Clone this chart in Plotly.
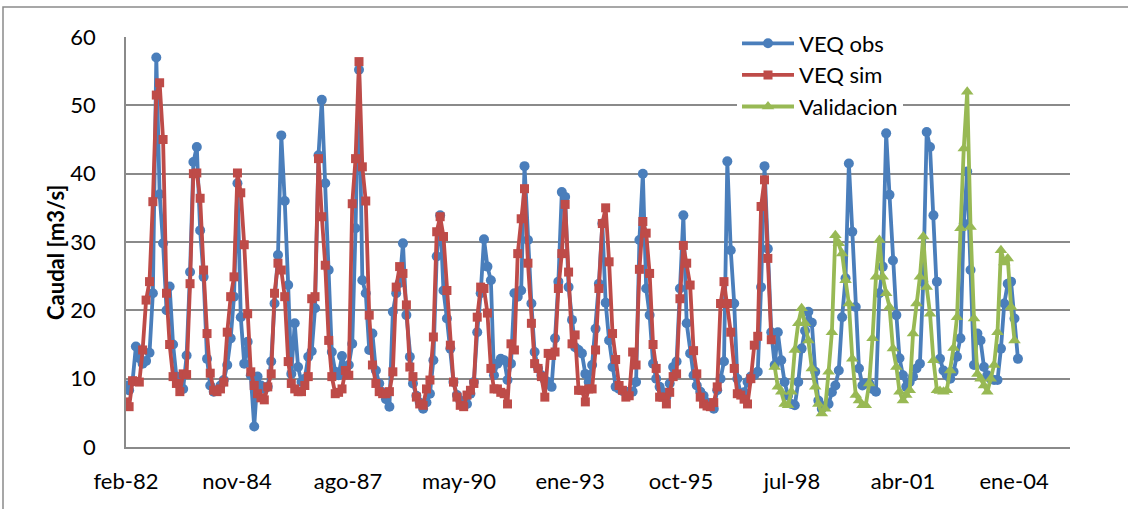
import datetime as dt
import plotly.graph_objects as go

# Monthly discharge series, first month Feb-1982
start = dt.date(1982, 2, 15)

veq_obs = [
    9.0, 8.3, 9.6, 14.7, 13.0, 12.2, 12.6, 13.8, 22.5, 57.0, 37.0, 29.8,
    20.0, 23.5, 15.0, 10.3, 9.0, 8.5, 13.4, 25.6, 41.7, 43.9, 31.7, 24.9,
    12.9, 9.0, 8.1, 8.3, 9.0, 9.8, 12.0, 15.9, 22.0, 38.6, 19.0, 12.2,
    15.4, 10.5, 3.0, 10.3, 9.0, 8.5, 8.8, 12.5, 21.0, 28.1, 45.6, 36.0,
    23.7, 10.7, 18.1, 11.7, 9.5, 10.0, 13.2, 14.0, 20.3, 42.7, 50.8, 38.6,
    25.9, 13.9, 11.0, 10.5, 13.3, 11.5, 12.0, 15.1, 32.0, 55.2, 24.4, 22.5,
    14.2, 16.6, 11.2, 9.3, 8.0, 7.0, 5.9, 19.8, 22.5, 24.0, 29.8, 19.3,
    13.2, 9.3, 7.5, 6.5, 5.6, 6.5, 7.8, 12.7, 27.9, 33.9, 22.9, 18.8,
    14.4, 9.5, 7.6, 6.8, 6.3, 6.3, 7.8, 9.5, 16.8, 22.5, 30.4, 26.4,
    24.4, 10.5, 12.2, 12.9, 12.7, 9.8, 12.2, 22.5, 22.0, 22.9, 41.1, 30.3,
    21.0, 13.9, 11.5, 10.5, 9.8, 9.5, 8.8, 15.9, 24.2, 37.3, 36.6, 23.4,
    18.6, 14.6, 14.2, 13.7, 10.7, 9.5, 12.0, 17.3, 23.9, 32.7, 21.1, 15.6,
    11.7, 8.8, 8.5, 8.2, 8.1, 8.1, 8.1, 9.5, 30.3, 40.0, 23.2, 19.3,
    12.2, 10.0, 8.8, 8.0, 7.3, 9.3, 11.7, 12.5, 23.2, 33.9, 18.1, 13.7,
    10.5, 9.0, 8.1, 7.5, 6.5, 6.0, 5.6, 8.3, 10.0, 12.5, 41.8, 28.8,
    21.0, 10.0, 7.8, 8.0, 9.5, 10.3, 10.5, 11.0, 23.4, 41.1, 29.0, 16.8,
    12.0, 16.8, 12.7, 9.5, 7.5, 6.3, 6.1, 9.5, 14.4, 17.0, 19.8, 18.2,
    11.0, 6.8, 5.6, 6.0, 6.3, 8.0, 9.0, 11.2, 19.0, 24.7, 41.5, 31.5,
    20.5, 11.5, 9.0, 9.3, 9.3, 8.5, 8.1, 22.5, 26.4, 45.9, 36.9, 27.3,
    19.3, 13.0, 10.5, 8.8, 9.5, 10.3, 11.5, 12.2, 24.2, 46.1, 43.9, 33.9,
    24.2, 12.9, 11.2, 10.5, 10.0, 11.0, 13.2, 15.9, 32.7, 40.3, 25.9, 12.0,
    16.6, 15.6, 11.7, 10.5, 10.0, 9.8, 9.8, 14.4, 21.0, 23.9, 24.2, 18.8,
    12.9,
]

veq_sim = [
    6.6, 5.9, 9.7, 9.6, 9.5, 14.2, 21.5, 24.2, 35.9, 51.5, 53.3, 45.0,
    22.5, 15.0, 10.3, 9.3, 8.1, 10.7, 10.6, 23.9, 40.0, 40.1, 36.4, 25.9,
    16.6, 10.8, 8.3, 8.1, 8.5, 9.5, 16.8, 22.0, 24.9, 40.1, 37.2, 29.6,
    19.5, 11.0, 9.0, 7.8, 7.2, 6.9, 8.8, 10.7, 22.5, 26.9, 25.9, 22.0,
    12.5, 9.3, 8.5, 8.1, 8.1, 9.0, 10.3, 21.7, 22.0, 42.2, 33.7, 26.6,
    15.6, 10.3, 7.8, 8.0, 8.5, 11.2, 10.5, 35.6, 42.2, 56.4, 41.0, 36.0,
    19.3, 12.0, 9.3, 8.1, 7.8, 7.8, 8.1, 11.0, 23.4, 26.4, 25.4, 20.8,
    11.7, 10.3, 7.3, 6.3, 6.1, 8.5, 9.8, 16.1, 31.5, 33.7, 30.8, 22.9,
    14.9, 9.5, 7.3, 6.1, 5.9, 7.6, 8.3, 9.3, 19.0, 23.4, 23.2, 19.6,
    11.5, 8.5, 8.5, 8.0, 7.8, 6.3, 15.1, 14.2, 28.3, 33.4, 37.8, 26.9,
    18.1, 12.2, 11.5, 10.3, 7.3, 13.7, 13.4, 13.9, 23.2, 28.3, 35.5, 25.6,
    15.1, 16.4, 8.3, 8.3, 6.6, 8.5, 8.5, 14.2, 23.2, 32.7, 35.0, 27.1,
    16.6, 12.8, 9.0, 8.3, 7.3, 7.5, 13.9, 12.0, 26.0, 33.0, 31.3, 25.4,
    15.0, 11.5, 7.3, 7.3, 6.3, 8.0, 10.3, 10.7, 21.7, 29.5, 26.9, 23.7,
    14.1, 10.7, 7.3, 6.3, 6.0, 5.9, 6.5, 8.8, 21.0, 24.2, 21.0, 16.8,
    11.5, 7.8, 7.6, 7.0, 6.3, 10.0, 14.9, 16.2, 35.2, 39.1, 27.6, 15.7,
]

# Validation period starts Feb-1998 (month index 192)
validacion_offset = 192
validacion = [
    11.7, 8.8, 8.1, 6.3, 6.1, 8.1, 14.2, 18.1, 20.3, 18.1, 15.6, 11.5,
    8.8, 6.3, 4.9, 5.6, 11.0, 16.8, 31.0, 29.8, 28.3, 24.4, 21.0, 12.9,
    7.6, 6.8, 6.1, 6.1, 9.3, 15.9, 24.9, 30.3, 24.9, 22.5, 20.5, 14.4,
    11.7, 8.1, 6.8, 7.6, 8.3, 16.6, 21.0, 24.9, 30.8, 23.4, 19.5, 12.7,
    8.3, 8.2, 8.1, 8.3, 11.2, 14.5, 19.0, 32.0, 43.7, 52.0, 32.2, 18.8,
    10.7, 10.0, 9.0, 8.1, 10.0, 12.0, 16.8, 28.8, 27.0, 27.6, 20.5, 15.6,
]

tick_labels = ["feb-82", "nov-84", "ago-87", "may-90", "ene-93",
               "oct-95", "jul-98", "abr-01", "ene-04"]
tick_step_days = 1000
axis_span_days = 8504


def month_dates(offset, n):
    out = []
    for i in range(offset, offset + n):
        y = start.year + (start.month - 1 + i) // 12
        m = (start.month - 1 + i) % 12 + 1
        out.append(dt.date(y, m, 15).isoformat())
    return out


tick_vals = [(start + dt.timedelta(days=tick_step_days * k)).isoformat()
             for k in range(len(tick_labels))]
x_end = (start + dt.timedelta(days=axis_span_days)).isoformat()

FONT = "Lato, 'Open Sans', sans-serif"
GRID = "#8a8a8a"

fig = go.Figure()
fig.add_trace(go.Scatter(
    x=month_dates(0, len(veq_obs)), y=veq_obs, name="VEQ obs",
    mode="lines+markers",
    line=dict(color="#4A7EBB", width=3.8),
    marker=dict(symbol="circle", size=10, color="#4A7EBB"),
))
fig.add_trace(go.Scatter(
    x=month_dates(0, len(veq_sim)), y=veq_sim, name="VEQ sim",
    mode="lines+markers",
    line=dict(color="#BE4B48", width=3.8),
    marker=dict(symbol="square", size=9, color="#BE4B48"),
))
fig.add_trace(go.Scatter(
    x=month_dates(validacion_offset, len(validacion)), y=validacion,
    name="Validacion", mode="lines+markers",
    line=dict(color="#98B954", width=3.8),
    marker=dict(symbol="triangle-up", size=11, color="#98B954"),
))

W, H = 1128, 509
L, R, T, B = 126, 58, 37, 62
pw, ph = W - L - R, H - T - B


def px_x(px):
    return (px - L) / pw


def px_y(py):
    return (H - B - py) / ph


fig.update_layout(
    width=W, height=H,
    margin=dict(l=L, r=R, t=T, b=B, pad=0),
    paper_bgcolor="white", plot_bgcolor="white",
    font=dict(family=FONT, size=22, color="black"),
    showlegend=True,
    legend=dict(
        x=px_x(737), y=px_y(22.5), xanchor="left", yanchor="top",
        bgcolor="white", borderwidth=0,
        font=dict(family=FONT, size=22, color="black"),
        itemwidth=52, tracegroupgap=0,
    ),
    xaxis=dict(
        type="date", range=[start.isoformat(), x_end],
        tickmode="array", tickvals=tick_vals, ticktext=tick_labels,
        showgrid=False, showline=True, linecolor=GRID, linewidth=1.5,
        ticks="", ticklabelstandoff=14,
        tickfont=dict(family=FONT, size=22, color="black"),
        zeroline=False,
    ),
    yaxis=dict(
        range=[0, 60], tickmode="array", tickvals=list(range(0, 61, 10)),
        showgrid=True, gridcolor=GRID, gridwidth=1.5,
        showline=True, linecolor=GRID, linewidth=1.5,
        ticks="", ticklabelstandoff=24,
        tickfont=dict(family=FONT, size=22, color="black"),
        zeroline=False,
    ),
    annotations=[dict(
        text="<b>Caudal [m3/s]</b>", textangle=-90,
        x=px_x(55), y=px_y(253), xref="paper", yref="paper",
        xanchor="center", yanchor="middle", showarrow=False,
        font=dict(family=FONT, size=22, color="black"),
    )],
    shapes=[dict(
        type="rect", xref="paper", yref="paper",
        x0=px_x(3), x1=px_x(1140), y0=px_y(7), y1=px_y(520),
        line=dict(color=GRID, width=1.5), fillcolor="rgba(0,0,0,0)",
        layer="below",
    )],
)

fig.write_html("out.html")
